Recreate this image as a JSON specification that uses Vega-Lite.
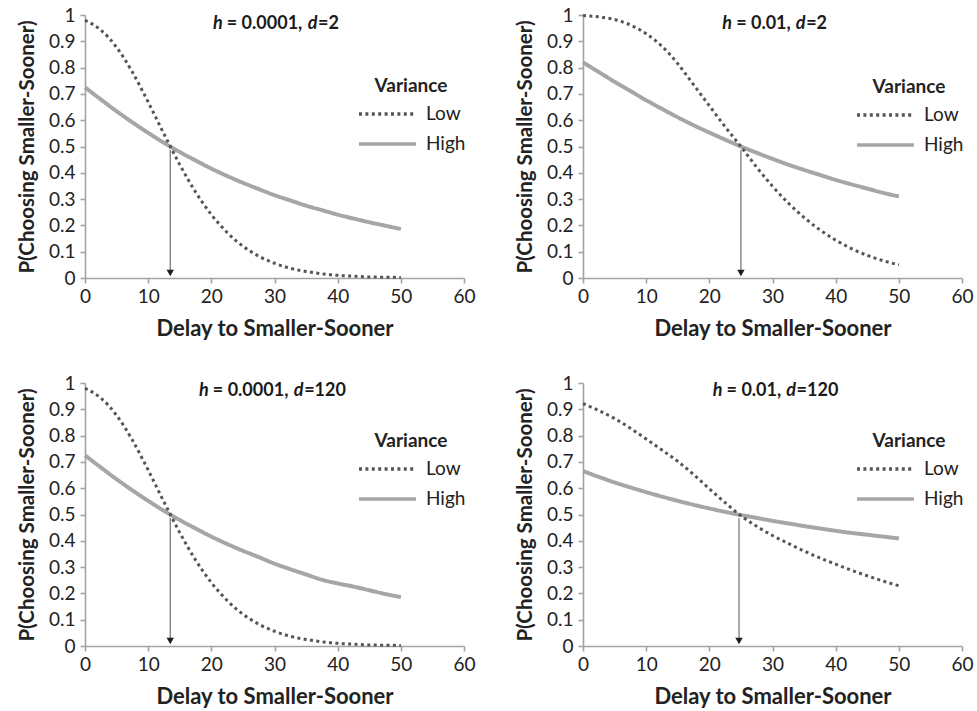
{
 "$schema": "https://vega.github.io/schema/vega-lite/v6.json",
 "background": "white",
 "padding": {"left": 17, "top": 6, "right": 5, "bottom": 5},
 "bounds": "flush",
 "columns": 2,
 "spacing": {"row": 105, "column": 119},
 "datasets": {
  "titleparts": [
   {"panel": "A", "seg": "h", "text": "h"}, {"panel": "A", "seg": "mid", "text": "= 0.0001,"}, {"panel": "A", "seg": "d", "text": "d"}, {"panel": "A", "seg": "tail", "text": "=2"},
   {"panel": "B", "seg": "h", "text": "h"}, {"panel": "B", "seg": "mid", "text": "= 0.01,"}, {"panel": "B", "seg": "d", "text": "d"}, {"panel": "B", "seg": "tail", "text": "=2"},
   {"panel": "C", "seg": "h", "text": "h"}, {"panel": "C", "seg": "mid", "text": "= 0.0001,"}, {"panel": "C", "seg": "d", "text": "d"}, {"panel": "C", "seg": "tail", "text": "=120"},
   {"panel": "D", "seg": "h", "text": "h"}, {"panel": "D", "seg": "mid", "text": "= 0.01,"}, {"panel": "D", "seg": "d", "text": "d"}, {"panel": "D", "seg": "tail", "text": "=120"}
  ],
  "arrows": [
   {"panel": "A", "delay": 13.5},
   {"panel": "B", "delay": 25},
   {"panel": "C", "delay": 13.5},
   {"panel": "D", "delay": 24.7}
  ],
  "curves": [
   {"panel":"A","variance":"Low","delay":0,"p":0.980},{"panel":"A","variance":"Low","delay":2.5,"p":0.943},{"panel":"A","variance":"Low","delay":5,"p":0.877},{"panel":"A","variance":"Low","delay":7.5,"p":0.783},{"panel":"A","variance":"Low","delay":10,"p":0.669},{"panel":"A","variance":"Low","delay":12.5,"p":0.548},{"panel":"A","variance":"Low","delay":15,"p":0.431},{"panel":"A","variance":"Low","delay":17.5,"p":0.327},{"panel":"A","variance":"Low","delay":20,"p":0.241},{"panel":"A","variance":"Low","delay":22.5,"p":0.173},{"panel":"A","variance":"Low","delay":25,"p":0.121},{"panel":"A","variance":"Low","delay":27.5,"p":0.083},{"panel":"A","variance":"Low","delay":30,"p":0.056},{"panel":"A","variance":"Low","delay":32.5,"p":0.037},{"panel":"A","variance":"Low","delay":35,"p":0.025},{"panel":"A","variance":"Low","delay":37.5,"p":0.016},{"panel":"A","variance":"Low","delay":40,"p":0.010},{"panel":"A","variance":"Low","delay":42.5,"p":0.007},{"panel":"A","variance":"Low","delay":45,"p":0.004},{"panel":"A","variance":"Low","delay":47.5,"p":0.003},{"panel":"A","variance":"Low","delay":50,"p":0.002},
   {"panel":"A","variance":"High","delay":0,"p":0.725},{"panel":"A","variance":"High","delay":2.5,"p":0.679},{"panel":"A","variance":"High","delay":5,"p":0.634},{"panel":"A","variance":"High","delay":7.5,"p":0.592},{"panel":"A","variance":"High","delay":10,"p":0.552},{"panel":"A","variance":"High","delay":12.5,"p":0.514},{"panel":"A","variance":"High","delay":15,"p":0.479},{"panel":"A","variance":"High","delay":17.5,"p":0.447},{"panel":"A","variance":"High","delay":20,"p":0.416},{"panel":"A","variance":"High","delay":22.5,"p":0.388},{"panel":"A","variance":"High","delay":25,"p":0.362},{"panel":"A","variance":"High","delay":27.5,"p":0.338},{"panel":"A","variance":"High","delay":30,"p":0.315},{"panel":"A","variance":"High","delay":32.5,"p":0.295},{"panel":"A","variance":"High","delay":35,"p":0.275},{"panel":"A","variance":"High","delay":37.5,"p":0.258},{"panel":"A","variance":"High","delay":40,"p":0.241},{"panel":"A","variance":"High","delay":42.5,"p":0.226},{"panel":"A","variance":"High","delay":45,"p":0.212},{"panel":"A","variance":"High","delay":47.5,"p":0.199},{"panel":"A","variance":"High","delay":50,"p":0.186},
   {"panel":"B","variance":"Low","delay":0,"p":0.998},{"panel":"B","variance":"Low","delay":2.5,"p":0.993},{"panel":"B","variance":"Low","delay":5,"p":0.983},{"panel":"B","variance":"Low","delay":7.5,"p":0.962},{"panel":"B","variance":"Low","delay":10,"p":0.929},{"panel":"B","variance":"Low","delay":12.5,"p":0.881},{"panel":"B","variance":"Low","delay":15,"p":0.815},{"panel":"B","variance":"Low","delay":17.5,"p":0.735},{"panel":"B","variance":"Low","delay":20,"p":0.655},{"panel":"B","variance":"Low","delay":22.5,"p":0.575},{"panel":"B","variance":"Low","delay":25,"p":0.500},{"panel":"B","variance":"Low","delay":27.5,"p":0.421},{"panel":"B","variance":"Low","delay":30,"p":0.349},{"panel":"B","variance":"Low","delay":32.5,"p":0.285},{"panel":"B","variance":"Low","delay":35,"p":0.230},{"panel":"B","variance":"Low","delay":37.5,"p":0.183},{"panel":"B","variance":"Low","delay":40,"p":0.144},{"panel":"B","variance":"Low","delay":42.5,"p":0.112},{"panel":"B","variance":"Low","delay":45,"p":0.086},{"panel":"B","variance":"Low","delay":47.5,"p":0.066},{"panel":"B","variance":"Low","delay":50,"p":0.050},
   {"panel":"B","variance":"High","delay":0,"p":0.820},{"panel":"B","variance":"High","delay":2.5,"p":0.783},{"panel":"B","variance":"High","delay":5,"p":0.746},{"panel":"B","variance":"High","delay":7.5,"p":0.711},{"panel":"B","variance":"High","delay":10,"p":0.676},{"panel":"B","variance":"High","delay":12.5,"p":0.643},{"panel":"B","variance":"High","delay":15,"p":0.611},{"panel":"B","variance":"High","delay":17.5,"p":0.581},{"panel":"B","variance":"High","delay":20,"p":0.553},{"panel":"B","variance":"High","delay":22.5,"p":0.526},{"panel":"B","variance":"High","delay":25,"p":0.500},{"panel":"B","variance":"High","delay":27.5,"p":0.476},{"panel":"B","variance":"High","delay":30,"p":0.453},{"panel":"B","variance":"High","delay":32.5,"p":0.431},{"panel":"B","variance":"High","delay":35,"p":0.411},{"panel":"B","variance":"High","delay":37.5,"p":0.392},{"panel":"B","variance":"High","delay":40,"p":0.373},{"panel":"B","variance":"High","delay":42.5,"p":0.356},{"panel":"B","variance":"High","delay":45,"p":0.340},{"panel":"B","variance":"High","delay":47.5,"p":0.324},{"panel":"B","variance":"High","delay":50,"p":0.310},
   {"panel":"C","variance":"Low","delay":0,"p":0.980},{"panel":"C","variance":"Low","delay":2.5,"p":0.943},{"panel":"C","variance":"Low","delay":5,"p":0.877},{"panel":"C","variance":"Low","delay":7.5,"p":0.783},{"panel":"C","variance":"Low","delay":10,"p":0.669},{"panel":"C","variance":"Low","delay":12.5,"p":0.548},{"panel":"C","variance":"Low","delay":15,"p":0.431},{"panel":"C","variance":"Low","delay":17.5,"p":0.327},{"panel":"C","variance":"Low","delay":20,"p":0.241},{"panel":"C","variance":"Low","delay":22.5,"p":0.173},{"panel":"C","variance":"Low","delay":25,"p":0.121},{"panel":"C","variance":"Low","delay":27.5,"p":0.083},{"panel":"C","variance":"Low","delay":30,"p":0.056},{"panel":"C","variance":"Low","delay":32.5,"p":0.037},{"panel":"C","variance":"Low","delay":35,"p":0.025},{"panel":"C","variance":"Low","delay":37.5,"p":0.016},{"panel":"C","variance":"Low","delay":40,"p":0.010},{"panel":"C","variance":"Low","delay":42.5,"p":0.007},{"panel":"C","variance":"Low","delay":45,"p":0.004},{"panel":"C","variance":"Low","delay":47.5,"p":0.003},{"panel":"C","variance":"Low","delay":50,"p":0.002},
   {"panel":"C","variance":"High","delay":0,"p":0.725},{"panel":"C","variance":"High","delay":2.5,"p":0.679},{"panel":"C","variance":"High","delay":5,"p":0.634},{"panel":"C","variance":"High","delay":7.5,"p":0.592},{"panel":"C","variance":"High","delay":10,"p":0.552},{"panel":"C","variance":"High","delay":12.5,"p":0.514},{"panel":"C","variance":"High","delay":15,"p":0.479},{"panel":"C","variance":"High","delay":17.5,"p":0.447},{"panel":"C","variance":"High","delay":20,"p":0.416},{"panel":"C","variance":"High","delay":22.5,"p":0.388},{"panel":"C","variance":"High","delay":25,"p":0.362},{"panel":"C","variance":"High","delay":27.5,"p":0.338},{"panel":"C","variance":"High","delay":30,"p":0.313},{"panel":"C","variance":"High","delay":32.5,"p":0.292},{"panel":"C","variance":"High","delay":35,"p":0.272},{"panel":"C","variance":"High","delay":37.5,"p":0.252},{"panel":"C","variance":"High","delay":40,"p":0.238},{"panel":"C","variance":"High","delay":42.5,"p":0.226},{"panel":"C","variance":"High","delay":45,"p":0.212},{"panel":"C","variance":"High","delay":47.5,"p":0.198},{"panel":"C","variance":"High","delay":50,"p":0.186},
   {"panel":"D","variance":"Low","delay":0,"p":0.922},{"panel":"D","variance":"Low","delay":2.5,"p":0.895},{"panel":"D","variance":"Low","delay":5,"p":0.865},{"panel":"D","variance":"Low","delay":7.5,"p":0.828},{"panel":"D","variance":"Low","delay":10,"p":0.787},{"panel":"D","variance":"Low","delay":12.5,"p":0.745},{"panel":"D","variance":"Low","delay":15,"p":0.702},{"panel":"D","variance":"Low","delay":17.5,"p":0.652},{"panel":"D","variance":"Low","delay":20,"p":0.598},{"panel":"D","variance":"Low","delay":22.5,"p":0.545},{"panel":"D","variance":"Low","delay":25,"p":0.495},{"panel":"D","variance":"Low","delay":27.5,"p":0.455},{"panel":"D","variance":"Low","delay":30,"p":0.420},{"panel":"D","variance":"Low","delay":32.5,"p":0.390},{"panel":"D","variance":"Low","delay":35,"p":0.361},{"panel":"D","variance":"Low","delay":37.5,"p":0.335},{"panel":"D","variance":"Low","delay":40,"p":0.311},{"panel":"D","variance":"Low","delay":42.5,"p":0.288},{"panel":"D","variance":"Low","delay":45,"p":0.267},{"panel":"D","variance":"Low","delay":47.5,"p":0.247},{"panel":"D","variance":"Low","delay":50,"p":0.229},
   {"panel":"D","variance":"High","delay":0,"p":0.665},{"panel":"D","variance":"High","delay":2.5,"p":0.643},{"panel":"D","variance":"High","delay":5,"p":0.622},{"panel":"D","variance":"High","delay":7.5,"p":0.603},{"panel":"D","variance":"High","delay":10,"p":0.585},{"panel":"D","variance":"High","delay":12.5,"p":0.568},{"panel":"D","variance":"High","delay":15,"p":0.552},{"panel":"D","variance":"High","delay":17.5,"p":0.537},{"panel":"D","variance":"High","delay":20,"p":0.523},{"panel":"D","variance":"High","delay":22.5,"p":0.510},{"panel":"D","variance":"High","delay":25,"p":0.498},{"panel":"D","variance":"High","delay":27.5,"p":0.487},{"panel":"D","variance":"High","delay":30,"p":0.476},{"panel":"D","variance":"High","delay":32.5,"p":0.466},{"panel":"D","variance":"High","delay":35,"p":0.456},{"panel":"D","variance":"High","delay":37.5,"p":0.447},{"panel":"D","variance":"High","delay":40,"p":0.438},{"panel":"D","variance":"High","delay":42.5,"p":0.430},{"panel":"D","variance":"High","delay":45,"p":0.423},{"panel":"D","variance":"High","delay":47.5,"p":0.416},{"panel":"D","variance":"High","delay":50,"p":0.409}
  ]
 },
 "config": {
  "view": {"stroke": null},
  "font": "Lato",
  "text": {"font": "Lato", "fontSize": 18, "fontWeight": "bold", "color": "#1a1a1a", "align": "left", "baseline": "middle"},
  "axis": {"grid": false, "labelOverlap": false, "labelBound": false, "labelFlush": false, "domainColor": "#a3a3a3", "domainWidth": 1.6, "tickColor": "#a3a3a3", "tickWidth": 1.6, "tickSize": 5, "labelFont": "Lato", "labelFontSize": 19, "labelColor": "#222222", "labelPadding": 4, "titleFont": "Lato", "titleFontWeight": "bold", "titleColor": "#222222"},
  "axisX": {"titlePadding": 12, "titleFontSize": 22},
  "axisY": {"titlePadding": 11, "labelPadding": 5, "titleFontSize": 20.5},
  "legend": {"titleFont": "Lato", "titleFontSize": 19, "titleFontWeight": "bold", "titleColor": "#222222", "labelFont": "Lato", "labelFontSize": 19, "labelColor": "#222222", "symbolType": "stroke", "symbolSize": 3250, "symbolStrokeWidth": 3.5, "clipHeight": 24, "rowPadding": 6, "labelOffset": 8, "titleAnchor": "middle", "titlePadding": 6, "padding": 0}
 },
 "resolve": {"scale": {"color": "independent", "strokeDash": "independent"}, "legend": {"color": "independent", "strokeDash": "independent"}},
 "concat": [
    {
     "width": 379, "height": 263,
     "layer": [
      {"data": {"name": "curves"}, "transform": [{"filter": "datum.panel == 'A' && datum.variance == 'High'"}], "mark": {"type": "line", "interpolate": "monotone", "strokeWidth": 4},
       "encoding": {
        "x": {"field": "delay", "type": "quantitative", "scale": {"domain": [0, 60], "nice": false}, "axis": {"values": [0, 10, 20, 30, 40, 50, 60], "tickCount": 7, "title": "Delay to Smaller-Sooner"}},
        "y": {"field": "p", "type": "quantitative", "scale": {"domain": [0, 1], "nice": false}, "axis": {"values": [0, 0.1, 0.2, 0.3, 0.4, 0.5, 0.6, 0.7, 0.8, 0.9, 1], "tickCount": 11, "format": "~g", "title": "P(Choosing Smaller-Sooner)"}},
        "color": {"field": "variance", "type": "nominal", "scale": {"domain": ["Low", "High"], "range": ["#555555", "#a6a6a6"]}, "legend": {"title": "Variance", "orient": "none", "legendX": 272, "legendY": 62, "direction": "vertical"}},
        "strokeDash": {"field": "variance", "type": "nominal", "scale": {"domain": ["Low", "High"], "range": [[3, 3.4], [1, 0]]}, "legend": {"title": "Variance", "orient": "none", "legendX": 272, "legendY": 62, "direction": "vertical"}}
       }},
      {"data": {"name": "curves"}, "transform": [{"filter": "datum.panel == 'A' && datum.variance == 'Low'"}], "mark": {"type": "line", "interpolate": "monotone", "strokeWidth": 3},
       "encoding": {
        "x": {"field": "delay", "type": "quantitative", "scale": {"domain": [0, 60], "nice": false}},
        "y": {"field": "p", "type": "quantitative", "scale": {"domain": [0, 1], "nice": false}},
        "color": {"field": "variance", "type": "nominal", "scale": {"domain": ["Low", "High"], "range": ["#555555", "#a6a6a6"]}},
        "strokeDash": {"field": "variance", "type": "nominal", "scale": {"domain": ["Low", "High"], "range": [[3, 3.4], [1, 0]]}}
       }},
      {"data": {"name": "arrows"}, "transform": [{"filter": "datum.panel == 'A'"}], "mark": {"type": "rule", "color": "#7a7a7a", "strokeWidth": 1.3},
       "encoding": {"x": {"field": "delay", "type": "quantitative", "scale": {"domain": [0, 60], "nice": false}}, "y": {"datum": 0.487}, "y2": {"datum": 0.03}}},
      {"data": {"name": "arrows"}, "transform": [{"filter": "datum.panel == 'A'"}], "mark": {"type": "point", "shape": "triangle-down", "filled": true, "color": "#1e1e1e", "size": 55, "opacity": 1},
       "encoding": {"x": {"field": "delay", "type": "quantitative", "scale": {"domain": [0, 60], "nice": false}}, "y": {"datum": 0.019}}},
      {"data": {"name": "titleparts"}, "transform": [{"filter": "datum.panel == 'A' && datum.seg == 'h'"}], "mark": {"type": "text", "fontStyle": "italic", "dx": -63.4}, "encoding": {"x": {"datum": 30.3}, "y": {"datum": 0.966}, "text": {"field": "text"}}},
      {"data": {"name": "titleparts"}, "transform": [{"filter": "datum.panel == 'A' && datum.seg == 'mid'"}], "mark": {"type": "text", "dx": -49.6}, "encoding": {"x": {"datum": 30.3}, "y": {"datum": 0.966}, "text": {"field": "text"}}},
      {"data": {"name": "titleparts"}, "transform": [{"filter": "datum.panel == 'A' && datum.seg == 'd'"}], "mark": {"type": "text", "fontStyle": "italic", "dx": 31.4}, "encoding": {"x": {"datum": 30.3}, "y": {"datum": 0.966}, "text": {"field": "text"}}},
      {"data": {"name": "titleparts"}, "transform": [{"filter": "datum.panel == 'A' && datum.seg == 'tail'"}], "mark": {"type": "text", "dx": 41.7}, "encoding": {"x": {"datum": 30.3}, "y": {"datum": 0.966}, "text": {"field": "text"}}}
     ]
    },
    {
     "width": 379, "height": 263,
     "layer": [
      {"data": {"name": "curves"}, "transform": [{"filter": "datum.panel == 'B' && datum.variance == 'High'"}], "mark": {"type": "line", "interpolate": "monotone", "strokeWidth": 4},
       "encoding": {
        "x": {"field": "delay", "type": "quantitative", "scale": {"domain": [0, 60], "nice": false}, "axis": {"values": [0, 10, 20, 30, 40, 50, 60], "tickCount": 7, "title": "Delay to Smaller-Sooner"}},
        "y": {"field": "p", "type": "quantitative", "scale": {"domain": [0, 1], "nice": false}, "axis": {"values": [0, 0.1, 0.2, 0.3, 0.4, 0.5, 0.6, 0.7, 0.8, 0.9, 1], "tickCount": 11, "format": "~g", "title": "P(Choosing Smaller-Sooner)"}},
        "color": {"field": "variance", "type": "nominal", "scale": {"domain": ["Low", "High"], "range": ["#555555", "#a6a6a6"]}, "legend": {"title": "Variance", "orient": "none", "legendX": 272, "legendY": 63, "direction": "vertical"}},
        "strokeDash": {"field": "variance", "type": "nominal", "scale": {"domain": ["Low", "High"], "range": [[3, 3.4], [1, 0]]}, "legend": {"title": "Variance", "orient": "none", "legendX": 272, "legendY": 63, "direction": "vertical"}}
       }},
      {"data": {"name": "curves"}, "transform": [{"filter": "datum.panel == 'B' && datum.variance == 'Low'"}], "mark": {"type": "line", "interpolate": "monotone", "strokeWidth": 3},
       "encoding": {
        "x": {"field": "delay", "type": "quantitative", "scale": {"domain": [0, 60], "nice": false}},
        "y": {"field": "p", "type": "quantitative", "scale": {"domain": [0, 1], "nice": false}},
        "color": {"field": "variance", "type": "nominal", "scale": {"domain": ["Low", "High"], "range": ["#555555", "#a6a6a6"]}},
        "strokeDash": {"field": "variance", "type": "nominal", "scale": {"domain": ["Low", "High"], "range": [[3, 3.4], [1, 0]]}}
       }},
      {"data": {"name": "arrows"}, "transform": [{"filter": "datum.panel == 'B'"}], "mark": {"type": "rule", "color": "#7a7a7a", "strokeWidth": 1.3},
       "encoding": {"x": {"field": "delay", "type": "quantitative", "scale": {"domain": [0, 60], "nice": false}}, "y": {"datum": 0.487}, "y2": {"datum": 0.03}}},
      {"data": {"name": "arrows"}, "transform": [{"filter": "datum.panel == 'B'"}], "mark": {"type": "point", "shape": "triangle-down", "filled": true, "color": "#1e1e1e", "size": 55, "opacity": 1},
       "encoding": {"x": {"field": "delay", "type": "quantitative", "scale": {"domain": [0, 60], "nice": false}}, "y": {"datum": 0.019}}},
      {"data": {"name": "titleparts"}, "transform": [{"filter": "datum.panel == 'B' && datum.seg == 'h'"}], "mark": {"type": "text", "fontStyle": "italic", "dx": -52.7}, "encoding": {"x": {"datum": 30.4}, "y": {"datum": 0.966}, "text": {"field": "text"}}},
      {"data": {"name": "titleparts"}, "transform": [{"filter": "datum.panel == 'B' && datum.seg == 'mid'"}], "mark": {"type": "text", "dx": -38.9}, "encoding": {"x": {"datum": 30.4}, "y": {"datum": 0.966}, "text": {"field": "text"}}},
      {"data": {"name": "titleparts"}, "transform": [{"filter": "datum.panel == 'B' && datum.seg == 'd'"}], "mark": {"type": "text", "fontStyle": "italic", "dx": 20.8}, "encoding": {"x": {"datum": 30.4}, "y": {"datum": 0.966}, "text": {"field": "text"}}},
      {"data": {"name": "titleparts"}, "transform": [{"filter": "datum.panel == 'B' && datum.seg == 'tail'"}], "mark": {"type": "text", "dx": 31.1}, "encoding": {"x": {"datum": 30.4}, "y": {"datum": 0.966}, "text": {"field": "text"}}}
     ]
    },
    {
     "width": 379, "height": 263,
     "layer": [
      {"data": {"name": "curves"}, "transform": [{"filter": "datum.panel == 'C' && datum.variance == 'High'"}], "mark": {"type": "line", "interpolate": "monotone", "strokeWidth": 4},
       "encoding": {
        "x": {"field": "delay", "type": "quantitative", "scale": {"domain": [0, 60], "nice": false}, "axis": {"values": [0, 10, 20, 30, 40, 50, 60], "tickCount": 7, "title": "Delay to Smaller-Sooner"}},
        "y": {"field": "p", "type": "quantitative", "scale": {"domain": [0, 1], "nice": false}, "axis": {"values": [0, 0.1, 0.2, 0.3, 0.4, 0.5, 0.6, 0.7, 0.8, 0.9, 1], "tickCount": 11, "format": "~g", "title": "P(Choosing Smaller-Sooner)"}},
        "color": {"field": "variance", "type": "nominal", "scale": {"domain": ["Low", "High"], "range": ["#555555", "#a6a6a6"]}, "legend": {"title": "Variance", "orient": "none", "legendX": 272, "legendY": 49, "direction": "vertical"}},
        "strokeDash": {"field": "variance", "type": "nominal", "scale": {"domain": ["Low", "High"], "range": [[3, 3.4], [1, 0]]}, "legend": {"title": "Variance", "orient": "none", "legendX": 272, "legendY": 49, "direction": "vertical"}}
       }},
      {"data": {"name": "curves"}, "transform": [{"filter": "datum.panel == 'C' && datum.variance == 'Low'"}], "mark": {"type": "line", "interpolate": "monotone", "strokeWidth": 3},
       "encoding": {
        "x": {"field": "delay", "type": "quantitative", "scale": {"domain": [0, 60], "nice": false}},
        "y": {"field": "p", "type": "quantitative", "scale": {"domain": [0, 1], "nice": false}},
        "color": {"field": "variance", "type": "nominal", "scale": {"domain": ["Low", "High"], "range": ["#555555", "#a6a6a6"]}},
        "strokeDash": {"field": "variance", "type": "nominal", "scale": {"domain": ["Low", "High"], "range": [[3, 3.4], [1, 0]]}}
       }},
      {"data": {"name": "arrows"}, "transform": [{"filter": "datum.panel == 'C'"}], "mark": {"type": "rule", "color": "#7a7a7a", "strokeWidth": 1.3},
       "encoding": {"x": {"field": "delay", "type": "quantitative", "scale": {"domain": [0, 60], "nice": false}}, "y": {"datum": 0.487}, "y2": {"datum": 0.03}}},
      {"data": {"name": "arrows"}, "transform": [{"filter": "datum.panel == 'C'"}], "mark": {"type": "point", "shape": "triangle-down", "filled": true, "color": "#1e1e1e", "size": 55, "opacity": 1},
       "encoding": {"x": {"field": "delay", "type": "quantitative", "scale": {"domain": [0, 60], "nice": false}}, "y": {"datum": 0.019}}},
      {"data": {"name": "titleparts"}, "transform": [{"filter": "datum.panel == 'C' && datum.seg == 'h'"}], "mark": {"type": "text", "fontStyle": "italic", "dx": -74.2}, "encoding": {"x": {"datum": 29.8}, "y": {"datum": 0.969}, "text": {"field": "text"}}},
      {"data": {"name": "titleparts"}, "transform": [{"filter": "datum.panel == 'C' && datum.seg == 'mid'"}], "mark": {"type": "text", "dx": -60.4}, "encoding": {"x": {"datum": 29.8}, "y": {"datum": 0.969}, "text": {"field": "text"}}},
      {"data": {"name": "titleparts"}, "transform": [{"filter": "datum.panel == 'C' && datum.seg == 'd'"}], "mark": {"type": "text", "fontStyle": "italic", "dx": 20.6}, "encoding": {"x": {"datum": 29.8}, "y": {"datum": 0.969}, "text": {"field": "text"}}},
      {"data": {"name": "titleparts"}, "transform": [{"filter": "datum.panel == 'C' && datum.seg == 'tail'"}], "mark": {"type": "text", "dx": 30.9}, "encoding": {"x": {"datum": 29.8}, "y": {"datum": 0.969}, "text": {"field": "text"}}}
     ]
    },
    {
     "width": 379, "height": 263,
     "layer": [
      {"data": {"name": "curves"}, "transform": [{"filter": "datum.panel == 'D' && datum.variance == 'High'"}], "mark": {"type": "line", "interpolate": "monotone", "strokeWidth": 4},
       "encoding": {
        "x": {"field": "delay", "type": "quantitative", "scale": {"domain": [0, 60], "nice": false}, "axis": {"values": [0, 10, 20, 30, 40, 50, 60], "tickCount": 7, "title": "Delay to Smaller-Sooner"}},
        "y": {"field": "p", "type": "quantitative", "scale": {"domain": [0, 1], "nice": false}, "axis": {"values": [0, 0.1, 0.2, 0.3, 0.4, 0.5, 0.6, 0.7, 0.8, 0.9, 1], "tickCount": 11, "format": "~g", "title": "P(Choosing Smaller-Sooner)"}},
        "color": {"field": "variance", "type": "nominal", "scale": {"domain": ["Low", "High"], "range": ["#555555", "#a6a6a6"]}, "legend": {"title": "Variance", "orient": "none", "legendX": 272, "legendY": 49, "direction": "vertical"}},
        "strokeDash": {"field": "variance", "type": "nominal", "scale": {"domain": ["Low", "High"], "range": [[3, 3.4], [1, 0]]}, "legend": {"title": "Variance", "orient": "none", "legendX": 272, "legendY": 49, "direction": "vertical"}}
       }},
      {"data": {"name": "curves"}, "transform": [{"filter": "datum.panel == 'D' && datum.variance == 'Low'"}], "mark": {"type": "line", "interpolate": "monotone", "strokeWidth": 3},
       "encoding": {
        "x": {"field": "delay", "type": "quantitative", "scale": {"domain": [0, 60], "nice": false}},
        "y": {"field": "p", "type": "quantitative", "scale": {"domain": [0, 1], "nice": false}},
        "color": {"field": "variance", "type": "nominal", "scale": {"domain": ["Low", "High"], "range": ["#555555", "#a6a6a6"]}},
        "strokeDash": {"field": "variance", "type": "nominal", "scale": {"domain": ["Low", "High"], "range": [[3, 3.4], [1, 0]]}}
       }},
      {"data": {"name": "arrows"}, "transform": [{"filter": "datum.panel == 'D'"}], "mark": {"type": "rule", "color": "#7a7a7a", "strokeWidth": 1.3},
       "encoding": {"x": {"field": "delay", "type": "quantitative", "scale": {"domain": [0, 60], "nice": false}}, "y": {"datum": 0.487}, "y2": {"datum": 0.03}}},
      {"data": {"name": "arrows"}, "transform": [{"filter": "datum.panel == 'D'"}], "mark": {"type": "point", "shape": "triangle-down", "filled": true, "color": "#1e1e1e", "size": 55, "opacity": 1},
       "encoding": {"x": {"field": "delay", "type": "quantitative", "scale": {"domain": [0, 60], "nice": false}}, "y": {"datum": 0.019}}},
      {"data": {"name": "titleparts"}, "transform": [{"filter": "datum.panel == 'D' && datum.seg == 'h'"}], "mark": {"type": "text", "fontStyle": "italic", "dx": -63.5}, "encoding": {"x": {"datum": 30.6}, "y": {"datum": 0.969}, "text": {"field": "text"}}},
      {"data": {"name": "titleparts"}, "transform": [{"filter": "datum.panel == 'D' && datum.seg == 'mid'"}], "mark": {"type": "text", "dx": -49.7}, "encoding": {"x": {"datum": 30.6}, "y": {"datum": 0.969}, "text": {"field": "text"}}},
      {"data": {"name": "titleparts"}, "transform": [{"filter": "datum.panel == 'D' && datum.seg == 'd'"}], "mark": {"type": "text", "fontStyle": "italic", "dx": 10}, "encoding": {"x": {"datum": 30.6}, "y": {"datum": 0.969}, "text": {"field": "text"}}},
      {"data": {"name": "titleparts"}, "transform": [{"filter": "datum.panel == 'D' && datum.seg == 'tail'"}], "mark": {"type": "text", "dx": 20.3}, "encoding": {"x": {"datum": 30.6}, "y": {"datum": 0.969}, "text": {"field": "text"}}}
     ]
    }
 ]
}
